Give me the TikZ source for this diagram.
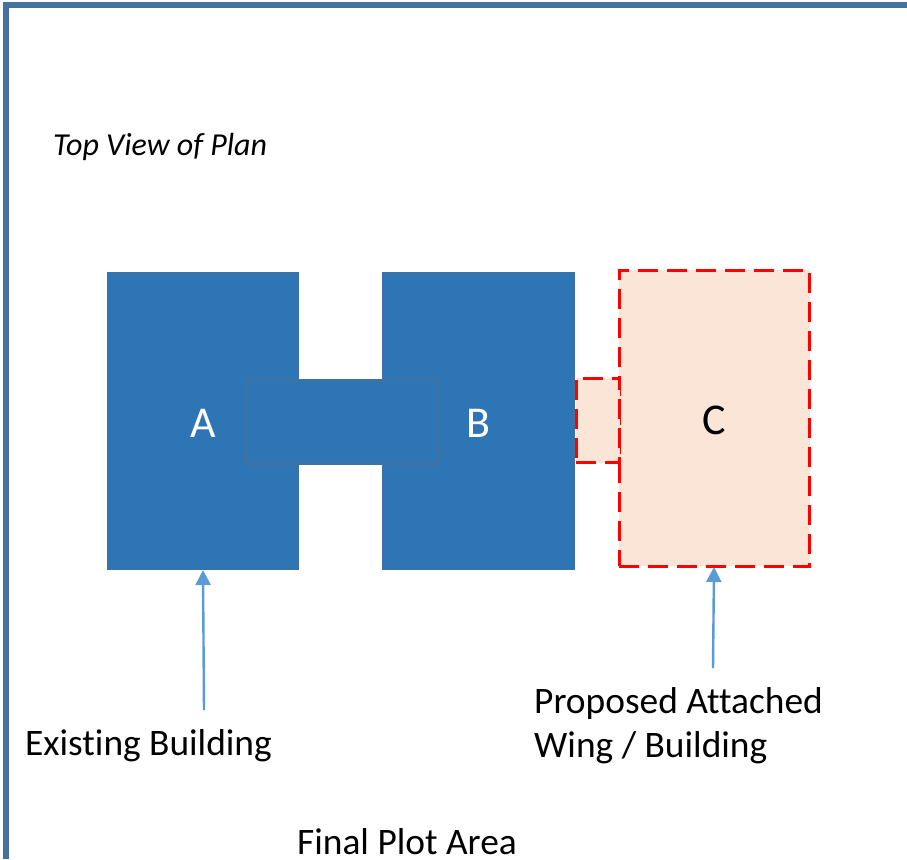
\documentclass[tikz,border=0pt]{standalone}
\usepackage{fontspec}
\setmainfont[Ligatures=NoCommon]{Carlito}
\usetikzlibrary{arrows.meta}
\definecolor{bluefill}{HTML}{2E75B6}
\definecolor{blueline}{HTML}{41719C}
\definecolor{framec}{HTML}{44719F}
\definecolor{peach}{HTML}{FBE5D6}
\definecolor{arrowc}{HTML}{5B9BD5}
\tikzset{
  x=1pt,y=-1pt,
  bldg/.style={draw=blueline,line width=1.2pt,fill=bluefill,rectangle,inner sep=0pt,text=white,font=\fontsize{44}{50}\selectfont},
  prop/.style={draw=red,line width=3pt,fill=peach,rectangle,inner sep=0pt,dash pattern=on 20pt off 9pt,font=\fontsize{44}{50}\selectfont},
  lbl/.style={inner sep=0pt,anchor=west,align=left,text=black,font=\fontsize{37.4}{44}\selectfont},
  pointer/.style={draw=arrowc,line width=2.4pt,-{Triangle[length=15pt,width=15pt]}},
}
\begin{document}
\begin{tikzpicture}
\useasboundingbox (0,0) rectangle (907,859);
\draw[framec,line width=6pt] (5.5,859) -- (5.5,5.5) -- (907,5.5);
\node[lbl,font=\itshape\fontsize{32}{38}\selectfont] (title) at (53,147) {Top View of Plan};
\node[bldg,minimum width=191pt,minimum height=297pt] (A) at (203,421) {\raisebox{-16pt}[0pt][0pt]{A}};
\node[bldg,minimum width=192pt,minimum height=297pt] (B) at (478.5,421) {\raisebox{-16pt}[0pt][0pt]{B}};
\node[bldg,minimum width=191pt,minimum height=84pt] (link) at (342.5,422) {};
\node[prop,minimum width=190.5pt,minimum height=296pt] (C) at (714.5,418) {\raisebox{-16pt}[0pt][0pt]{C}};
\node[prop,minimum width=43.5pt,minimum height=84.7pt] (joint) at (597.75,420.4) {};
\node[lbl] (existing) at (25,746) {Existing Building};
\node[lbl] (proposed) at (534,726) {Proposed Attached\\Wing / Building};
\node[lbl] (plot) at (297,842) {Final Plot Area};
\coordinate (e1) at (204,710);
\coordinate (e2) at (203,570);
\coordinate (p1) at (713,668);
\coordinate (p2) at (714,567);
\draw[pointer] (e1) -- (e2);
\draw[pointer] (p1) -- (p2);
\end{tikzpicture}
\end{document}
